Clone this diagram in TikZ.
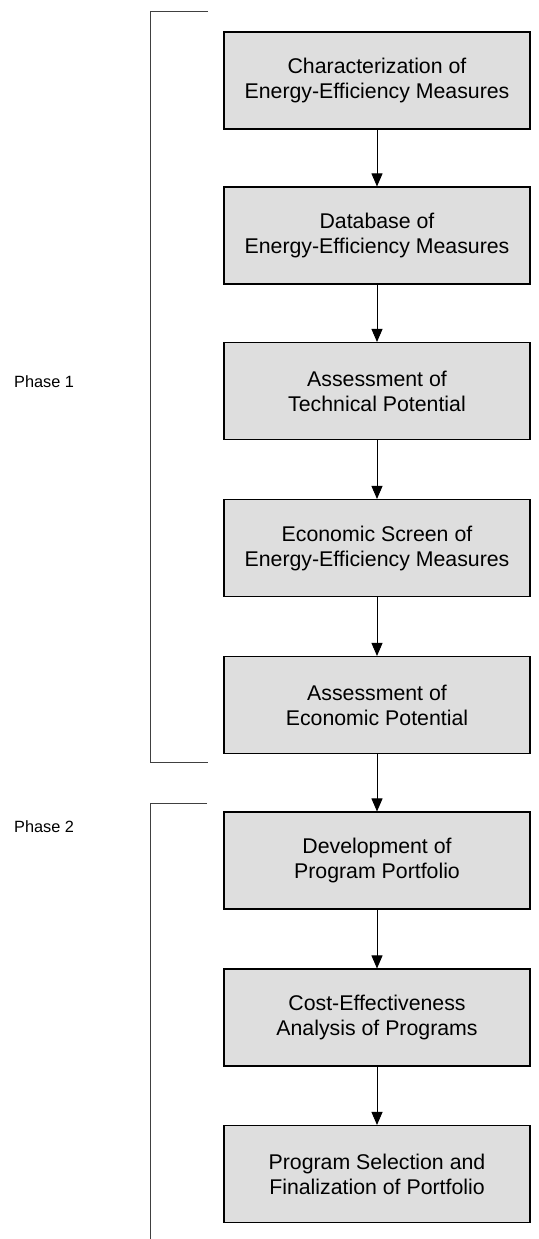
\documentclass[tikz,border=0pt]{standalone}
\usepackage{fontspec}
\setmainfont{Liberation Sans}
\usetikzlibrary{arrows.meta}
\begin{document}
\begin{tikzpicture}[x=1pt,y=-1pt,
  stepbox/.style={draw=black, line width=1.1pt, fill=black!13, minimum width=306pt, minimum height=97pt, inner sep=0pt, align=center, font=\fontsize{21.3}{25}\selectfont},
  flow/.style={draw=black, line width=0.9pt, -{Triangle[length=13pt,width=11pt]}},
  brace/.style={draw=black!75, line width=1pt},
  phase/.style={anchor=west, inner sep=0pt, font=\fontsize{16.3}{19}\selectfont}]
\useasboundingbox (0,0) rectangle (538,1239);
\node[stepbox] (b1) at (377,80.5) {Characterization of\\Energy-Efficiency Measures};
\node[stepbox] (b2) at (377,235.5) {Database of\\Energy-Efficiency Measures};
\node[stepbox] (b3) at (377,391) {Assessment of\\Technical Potential};
\node[stepbox] (b4) at (377,548) {Economic Screen of\\Energy-Efficiency Measures};
\node[stepbox] (b5) at (377,705) {Assessment of\\Economic Potential};
\node[stepbox] (b6) at (377,860.5) {Development of\\Program Portfolio};
\node[stepbox] (b7) at (377,1017.5) {Cost-Effectiveness\\Analysis of Programs};
\node[stepbox] (b8) at (377,1174) {Program Selection and\\Finalization of Portfolio};
\foreach \a/\b in {b1/b2,b2/b3,b3/b4,b4/b5,b5/b6,b6/b7,b7/b8}
  \draw[flow] (\a.south) -- (\b.north);
\coordinate (p1a) at (208,12);
\coordinate (p1b) at (150,12);
\coordinate (p1c) at (150,762);
\coordinate (p1d) at (208,762);
\draw[brace] (p1a) -- (p1b) -- (p1c) -- (p1d);
\coordinate (p2a) at (207,803);
\coordinate (p2b) at (150,803);
\coordinate (p2c) at (150,1239);
\draw[brace] (p2a) -- (p2b) -- (p2c);
\node[phase] (ph1) at (14,382) {Phase 1};
\node[phase] (ph2) at (14,827) {Phase 2};
\end{tikzpicture}
\end{document}
